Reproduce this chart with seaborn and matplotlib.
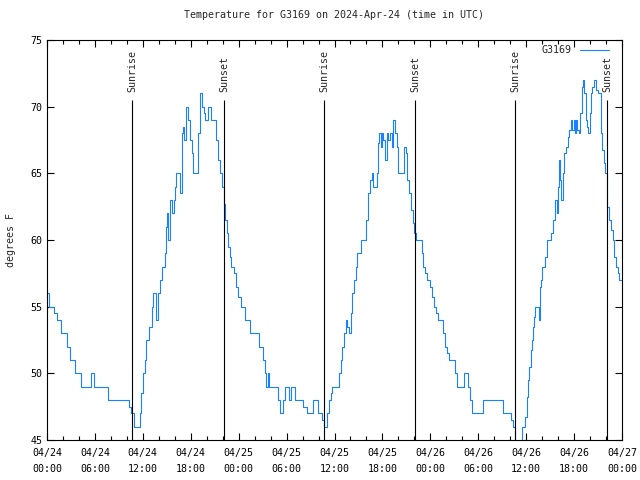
import numpy as np
import matplotlib
matplotlib.use("Agg")
import matplotlib.pyplot as plt
import matplotlib.dates as mdates
import pandas as pd
import seaborn as sns

# hours since 2024-04-24 00:00 UTC and temperature (F)
hours = [
    0.0, 0.25, 0.9, 1.2, 1.7, 2.5, 2.9, 3.5, 4.3, 5.5, 5.9, 7.6, 10.3, 10.5, 10.9,
    11.6, 11.8, 12.0, 12.25, 12.45, 12.75, 13.1, 13.3, 13.6, 13.85, 14.1, 14.35,
    14.75, 14.9, 15.05, 15.2, 15.35, 15.7, 15.85, 16.0, 16.2, 16.65, 16.85, 17.05,
    17.2, 17.45, 17.65, 17.85, 18.1, 18.3, 18.95, 19.2, 19.4, 19.6, 19.8, 20.2,
    20.55, 21.2, 21.45, 21.65, 21.9, 22.2, 22.3, 22.5, 22.7, 22.9, 23.1, 23.4,
    23.65, 23.95, 24.25, 24.8, 25.4, 26.6, 27.1, 27.3, 27.45, 27.7, 27.85, 28.95,
    29.15, 29.5, 29.8, 30.3, 30.5, 31.05, 32.1, 32.5, 33.35, 33.9, 34.4, 34.7,
    35.1, 35.3, 35.55, 35.7, 36.55, 36.8, 37.0, 37.2, 37.4, 37.6, 37.8, 38.05,
    38.25, 38.45, 38.65, 38.85, 39.3, 40.0, 40.25, 40.45, 40.65, 40.85, 41.3,
    41.4, 41.5, 41.6, 41.8, 41.9, 42.1, 42.3, 42.55, 42.75, 42.95, 43.15, 43.35,
    43.55, 43.8, 44.0, 44.7, 44.9, 45.1, 45.3, 45.6, 45.8, 46.0, 46.15, 46.9,
    47.1, 47.3, 47.55, 47.9, 48.15, 48.4, 48.7, 48.9, 49.6, 49.85, 50.1, 50.4,
    51.1, 51.3, 52.25, 52.75, 52.95, 53.2, 54.6, 57.1, 58.05, 58.3, 58.6, 59.5,
    59.9, 60.1, 60.25, 60.4, 60.55, 60.7, 60.8, 61.0, 61.1, 61.6, 61.7, 61.8,
    62.0, 62.3, 62.55, 63.1, 63.3, 63.6, 63.8, 63.95, 64.1, 64.25, 64.35, 64.55,
    64.75, 64.95, 65.2, 65.4, 65.6, 65.8, 65.95, 66.1, 66.25, 66.4, 66.65, 66.8,
    67.0, 67.15, 67.3, 67.45, 67.6, 67.8, 67.95, 68.1, 68.3, 68.5, 68.75, 68.95,
    69.35, 69.55, 69.7, 69.85, 70.1, 70.15, 70.35, 70.6, 70.85, 71.05, 71.2,
    71.45, 71.65, 72.0,
]
temps = [
    56, 55, 54.5, 54, 53, 52, 51, 50, 49, 50, 49, 48, 47.5, 47, 46,
    47, 48.5, 50, 51, 52.5, 53.5, 55, 56, 54, 56, 57, 58,
    59, 61, 62, 60, 63, 62, 63, 64, 65, 63.5, 68, 68.5,
    67.5, 70, 69, 67.5, 66.5, 65, 68, 71, 70, 69.5, 69, 70,
    69, 67.5, 66, 65, 64, 62.7, 61.5, 60.5, 59.5, 58.75, 58, 57.5,
    56.5, 55.75, 55, 54, 53, 52, 51, 50, 49, 50, 49, 48,
    47, 48, 49, 48, 49, 48, 47.5, 47, 48, 47, 46.5, 46,
    47, 48, 48.5, 49, 50, 51, 52, 53, 54, 53.5, 53, 54.5,
    56, 57, 58, 59, 60, 61.5, 63.5, 64.5, 65, 64, 65,
    65.75, 67.25, 68, 67, 68, 67.5, 66, 68, 67.5, 68, 67, 69,
    68, 67, 65, 67, 66.5, 64.5, 63.5, 62.25, 61.25, 60.5, 60, 59,
    58, 57.5, 57, 56.5, 55.7, 55, 54.5, 54, 53, 52, 51.5, 51,
    50, 49, 50, 49, 48, 47, 48, 47, 46.5, 46, 44.5, 46,
    46.75, 48.25, 49.5, 50.5, 51.75, 52.5, 53.5, 54.25, 55, 54, 56.5, 57,
    58, 58.75, 60, 60.5, 61.5, 63, 62, 64, 66, 64.5, 63, 65,
    66.5, 67, 67.75, 68.25, 69, 68.25, 69, 68, 69, 68.25, 68, 69.5,
    71.5, 72, 71, 69, 68.5, 68, 69.5, 71, 71.5, 72, 71.25, 71,
    68, 66.75, 65.75, 65, 63.5, 62.5, 61.5, 60.75, 60, 58.75, 58,
    57.5, 57, 57,
]

sunrise_hours = [10.65, 34.7, 58.63]
sunset_hours = [22.2, 46.08, 70.12]

start = pd.Timestamp("2024-04-24 00:00")
df = pd.DataFrame({
    "time": start + pd.to_timedelta(hours, unit="h"),
    "temp": temps,
})

sns.set_style("ticks")
plt.rcParams["font.family"] = ["DejaVu Sans Mono", "DejaVu Sans"]
plt.rcParams["font.size"] = 7.2

fig = plt.figure(figsize=(6.4, 4.8), dpi=100)
ax = fig.add_axes([47 / 640, 40 / 480, 575 / 640, 400 / 480])

sns.lineplot(data=df, x="time", y="temp", ax=ax, color="#1a80ff", linewidth=0.8,
             drawstyle="steps-post", estimator=None, label="G3169")

for h in sunrise_hours:
    t = start + pd.Timedelta(hours=h)
    ax.vlines(t, 45, 70.5, color="black", linewidth=0.8)
    ax.text(t, 71.1, "Sunrise", rotation=90, ha="center", va="bottom", fontsize=7.2)
for h in sunset_hours:
    t = start + pd.Timedelta(hours=h)
    ax.vlines(t, 45, 70.5, color="black", linewidth=0.8)
    ax.text(t, 71.1, "Sunset", rotation=90, ha="center", va="bottom", fontsize=7.2)

ax.set_xlim(start, start + pd.Timedelta(hours=72))
ax.set_ylim(45, 75)
ax.set_yticks(np.arange(45, 76, 5))
ax.xaxis.set_major_locator(mdates.HourLocator(byhour=[0, 6, 12, 18]))
ax.xaxis.set_minor_locator(mdates.HourLocator(byhour=range(0, 24, 2)))
ax.xaxis.set_major_formatter(mdates.DateFormatter("%m/%d\n%H:%M"))

ax.tick_params(which="both", direction="in", top=True, right=True, color="black",
               labelsize=7.2, labelcolor="black")
ax.tick_params(which="major", length=5, width=0.8)
ax.tick_params(which="minor", length=3, width=0.8)
ax.tick_params(axis="x", pad=6)
plt.setp(ax.get_xticklabels(), linespacing=1.75)
for s in ax.spines.values():
    s.set_visible(True)
    s.set_color("black")
    s.set_linewidth(0.8)

ax.set_xlabel("")
ax.set_ylabel("degrees F", fontsize=7.2, labelpad=10)
ax.set_title("Temperature for G3169 on 2024-Apr-24 (time in UTC)", fontsize=7.2, pad=16)

leg = ax.legend(loc="upper right", frameon=False, markerfirst=False, fontsize=7.2,
                handlelength=2.9, borderaxespad=0.3,
                bbox_to_anchor=(1 - 6 / 575, 1 + 2 / 400))

fig.savefig("out.png", dpi=100, facecolor="white")
